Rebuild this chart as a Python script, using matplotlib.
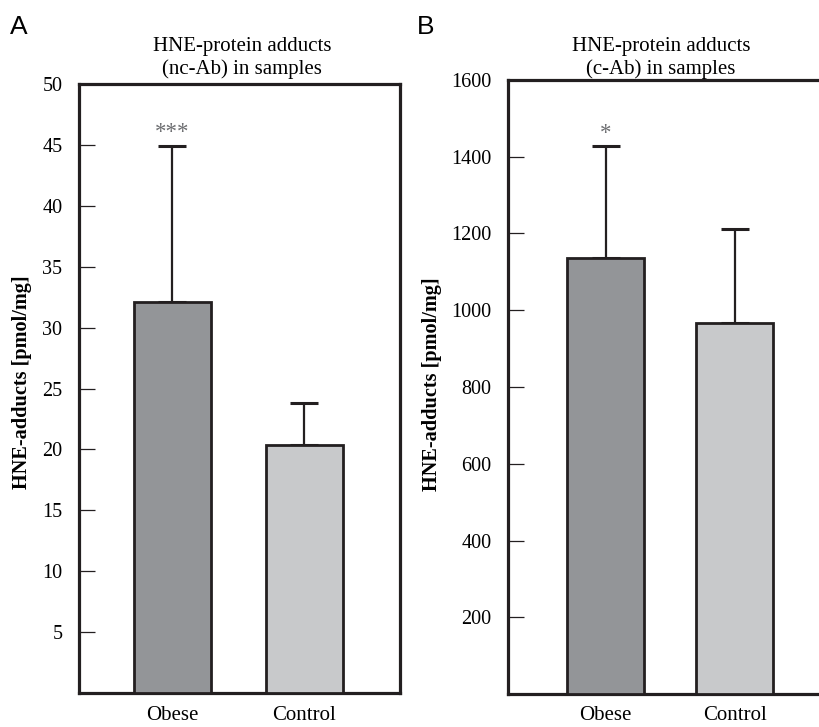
import matplotlib
matplotlib.use('Agg')
import matplotlib.pyplot as plt
import numpy as np

groups = ['Obese', 'Control']

# panel A: nc-Ab
nc_means = [32.1, 20.4]
nc_err = [12.8, 3.4]
nc_ticks = [5, 10, 15, 20, 25, 30, 35, 40, 45, 50]

# panel B: c-Ab
c_means = [1135, 966]
c_err = [292, 247]
c_ticks = [200, 400, 600, 800, 1000, 1200, 1400, 1600]

bar_colors = ['#939598', '#c8c9cb']
serif = 'Liberation Serif'

plt.rcParams['font.family'] = serif

fig = plt.figure(figsize=(8.19, 7.27), dpi=100)
W, H = 819.0, 727.0


def panel(rect, means, errs, ticks, ymax, xlim, barw):
    ax = fig.add_axes(rect)
    x = np.arange(len(means))
    ax.bar(x, means, width=barw, color=bar_colors, edgecolor='#231f20',
           linewidth=2.0, zorder=3)
    ax.errorbar(x, means, yerr=[np.zeros(len(errs)), errs], fmt='none',
                ecolor='#231f20', elinewidth=1.6, capsize=10, capthick=2.2,
                zorder=2)
    ax.set_xlim(*xlim)
    ax.set_ylim(0, ymax)
    ax.set_yticks(ticks)
    ax.set_yticklabels([str(t) for t in ticks])
    ax.set_xticks(x)
    ax.set_xticklabels(groups)
    ax.tick_params(axis='y', direction='in', length=11.5, width=0.9,
                   pad=12, labelsize=14.5, color='#231f20')
    ax.tick_params(axis='x', length=0, pad=9, labelsize=15)
    for s in ax.spines.values():
        s.set_linewidth(2.3)
        s.set_color('#231f20')
    ax.set_ylabel('HNE-adducts [pmol/mg]', fontsize=14.6, fontweight='bold',
                  labelpad=8)
    return ax


axA = panel([79 / W, 34 / H, 321 / W, 609 / H], nc_means, nc_err, nc_ticks,
            50, (-0.708, 1.724), 0.583)
axB = panel([508 / W, 33 / H, 321 / W, 614 / H], c_means, c_err, c_ticks,
            1600, (-0.756, 1.732), 0.597)
axA.yaxis.set_label_coords(-0.145, 0.51)
axB.yaxis.set_label_coords(-0.205, 0.505)

# significance marks
axA.annotate('***', xy=(0, nc_means[0] + nc_err[0]), xytext=(0, 2),
             textcoords='offset points', ha='center', va='bottom',
             fontsize=16.5, color='#6d6e71')
axB.annotate('*', xy=(0, c_means[0] + c_err[0]), xytext=(0, 2),
             textcoords='offset points', ha='center', va='bottom',
             fontsize=16.5, color='#6d6e71')

# titles
fig.text(242 / W, 1 - 58 / H, 'HNE-protein adducts\n(nc-Ab) in samples',
         ha='center', va='center', fontsize=15, linespacing=1.18)
fig.text(661 / W, 1 - 58 / H, 'HNE-protein adducts\n(c-Ab) in samples',
         ha='center', va='center', fontsize=15, linespacing=1.18)

# panel letters
fig.text(10 / W, 1 - 27 / H, 'A', ha='left', va='center', fontsize=19,
         family='Liberation Sans')
fig.text(417 / W, 1 - 27 / H, 'B', ha='left', va='center', fontsize=19,
         family='Liberation Sans')

fig.savefig('out.png', dpi=100)
